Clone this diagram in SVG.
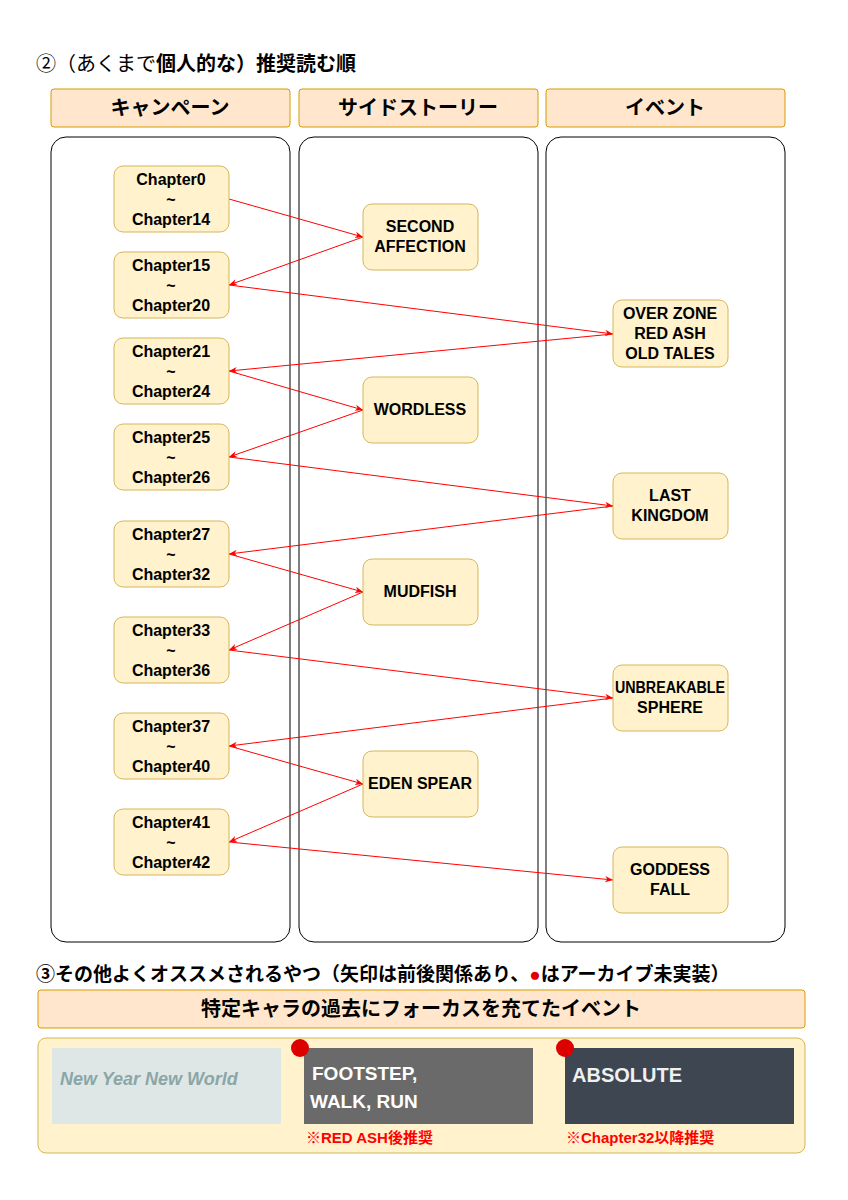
<svg xmlns="http://www.w3.org/2000/svg" width="848" height="1200" viewBox="0 0 848 1200">
<style>
text{font-family:"Liberation Sans","Noto Sans CJK JP",sans-serif;font-weight:bold;fill:#000}
.hd{fill:#ffe6cc;stroke:#d79b00;stroke-width:1}
.pn{fill:none;stroke:#000;stroke-width:1}
.nd{fill:#fff2cc;stroke:#d6b656;stroke-width:1}
.nt{font-size:16px;text-anchor:middle}
.ht{font-size:20px;text-anchor:middle}
.e{stroke:#ff0000;stroke-width:1;fill:none;marker-end:url(#a)}
</style>
<defs><marker id="a" viewBox="0 0 10 10" refX="10" refY="5" markerWidth="8" markerHeight="8" orient="auto" markerUnits="userSpaceOnUse"><path d="M0,1L10,5L0,9L3,5Z" fill="#ff0000"/></marker></defs>
<rect width="848" height="1200" fill="#fff"/>
<text x="36" y="71" font-size="20"><tspan font-weight="normal">②（あくまで</tspan>個人的な）推奨読む順</text>
<g id="headers">
<rect class="hd" x="51" y="89" width="239" height="38" rx="3"/><text class="ht" x="170" y="115">キャンペーン</text>
<rect class="hd" x="299" y="89" width="239" height="38" rx="3"/><text class="ht" x="418" y="115">サイドストーリー</text>
<rect class="hd" x="546" y="89" width="239" height="38" rx="3"/><text class="ht" x="665" y="115">イベント</text>
</g>
<g id="panels">
<rect class="pn" x="51" y="137" width="239" height="805" rx="15"/>
<rect class="pn" x="299" y="137" width="239" height="805" rx="15"/>
<rect class="pn" x="546" y="137" width="239" height="805" rx="15"/>
</g>
<g id="connectors">
<line class="e" x1="229" y1="199" x2="363" y2="237"/>
<line class="e" x1="363" y1="237" x2="229" y2="285"/>
<line class="e" x1="229" y1="285" x2="613" y2="334"/>
<line class="e" x1="613" y1="334" x2="229" y2="371"/>
<line class="e" x1="229" y1="371" x2="363" y2="410"/>
<line class="e" x1="363" y1="410" x2="229" y2="457"/>
<line class="e" x1="229" y1="457" x2="613" y2="506"/>
<line class="e" x1="613" y1="506" x2="229" y2="554"/>
<line class="e" x1="229" y1="554" x2="363" y2="592"/>
<line class="e" x1="363" y1="592" x2="229" y2="650"/>
<line class="e" x1="229" y1="650" x2="613" y2="698"/>
<line class="e" x1="613" y1="698" x2="229" y2="746"/>
<line class="e" x1="229" y1="746" x2="363" y2="784"/>
<line class="e" x1="363" y1="784" x2="229" y2="842"/>
<line class="e" x1="229" y1="842" x2="613" y2="880"/>
</g>
<g id="c0"><rect class="nd" x="114" y="166" width="115" height="66" rx="9"/><text class="nt" x="171" y="185">Chapter0</text><text class="nt" x="171" y="205">~</text><text class="nt" x="171" y="225">Chapter14</text></g>
<g id="c15"><rect class="nd" x="114" y="252" width="115" height="66" rx="9"/><text class="nt" x="171" y="271">Chapter15</text><text class="nt" x="171" y="291">~</text><text class="nt" x="171" y="311">Chapter20</text></g>
<g id="c21"><rect class="nd" x="114" y="338" width="115" height="66" rx="9"/><text class="nt" x="171" y="357">Chapter21</text><text class="nt" x="171" y="377">~</text><text class="nt" x="171" y="397">Chapter24</text></g>
<g id="c25"><rect class="nd" x="114" y="424" width="115" height="66" rx="9"/><text class="nt" x="171" y="443">Chapter25</text><text class="nt" x="171" y="463">~</text><text class="nt" x="171" y="483">Chapter26</text></g>
<g id="c27"><rect class="nd" x="114" y="521" width="115" height="66" rx="9"/><text class="nt" x="171" y="540">Chapter27</text><text class="nt" x="171" y="560">~</text><text class="nt" x="171" y="580">Chapter32</text></g>
<g id="c33"><rect class="nd" x="114" y="617" width="115" height="66" rx="9"/><text class="nt" x="171" y="636">Chapter33</text><text class="nt" x="171" y="656">~</text><text class="nt" x="171" y="676">Chapter36</text></g>
<g id="c37"><rect class="nd" x="114" y="713" width="115" height="66" rx="9"/><text class="nt" x="171" y="732">Chapter37</text><text class="nt" x="171" y="752">~</text><text class="nt" x="171" y="772">Chapter40</text></g>
<g id="c41"><rect class="nd" x="114" y="809" width="115" height="66" rx="9"/><text class="nt" x="171" y="828">Chapter41</text><text class="nt" x="171" y="848">~</text><text class="nt" x="171" y="868">Chapter42</text></g>
<g id="s1"><rect class="nd" x="363" y="204" width="115" height="66" rx="9"/><text class="nt" x="420" y="232">SECOND</text><text class="nt" x="420" y="252">AFFECTION</text></g>
<g id="s2"><rect class="nd" x="363" y="377" width="115" height="66" rx="9"/><text class="nt" x="420" y="415">WORDLESS</text></g>
<g id="s3"><rect class="nd" x="363" y="559" width="115" height="66" rx="9"/><text class="nt" x="420" y="597">MUDFISH</text></g>
<g id="s4"><rect class="nd" x="363" y="751" width="115" height="66" rx="9"/><text class="nt" x="420" y="789">EDEN SPEAR</text></g>
<g id="e1"><rect class="nd" x="613" y="300" width="115" height="67" rx="9"/><text class="nt" x="670" y="319">OVER ZONE</text><text class="nt" x="670" y="339">RED ASH</text><text class="nt" x="670" y="359">OLD TALES</text></g>
<g id="e2"><rect class="nd" x="613" y="473" width="115" height="66" rx="9"/><text class="nt" x="670" y="501">LAST</text><text class="nt" x="670" y="521">KINGDOM</text></g>
<g id="e3"><rect class="nd" x="613" y="665" width="115" height="66" rx="9"/><text class="nt" x="670" y="693" textLength="110" lengthAdjust="spacingAndGlyphs">UNBREAKABLE</text><text class="nt" x="670" y="713">SPHERE</text></g>
<g id="e4"><rect class="nd" x="613" y="847" width="115" height="66" rx="9"/><text class="nt" x="670" y="875">GODDESS</text><text class="nt" x="670" y="895">FALL</text></g>
<text x="36" y="981" font-size="19">③その他よくオススメされるやつ（矢印は前後関係あり、<tspan style="fill:#e00000">●</tspan>はアーカイブ未実装）</text>
<g id="sec3hd"><rect class="hd" x="38" y="990" width="767" height="38" rx="3"/><text class="ht" x="421" y="1016">特定キャラの過去にフォーカスを充てたイベント</text></g>
<g id="sec3box">
<rect x="38" y="1038" width="767" height="115" rx="8" fill="#fff2cc" stroke="#d6b656"/>
<rect x="52" y="1048" width="229" height="76" fill="#dfe6e6"/>
<text x="60" y="1085" font-size="18" font-family="Liberation Serif" font-weight="normal" style="fill:#8aa6a6" font-style="italic">New Year New World</text>
<rect x="304" y="1048" width="229" height="76" fill="#6a6a6a"/>
<text x="312" y="1080" font-size="19" font-family="Liberation Serif" style="fill:#fff" font-weight="normal">FOOTSTEP,</text>
<text x="310" y="1108" font-size="19" font-family="Liberation Serif" style="fill:#fff" font-weight="normal">WALK, RUN</text>
<rect x="565" y="1048" width="229" height="76" fill="#3e4652"/>
<text x="572" y="1082" font-size="20" style="fill:#f0f0f0">ABSOLUTE</text>
<circle cx="300" cy="1048" r="9" fill="#dd0000"/>
<circle cx="565" cy="1048" r="9" fill="#dd0000"/>
<text x="306" y="1143" font-size="15" style="fill:#ff0000">※RED ASH後推奨</text>
<text x="566" y="1143" font-size="15" style="fill:#ff0000">※Chapter32以降推奨</text>
</g>
</svg>
